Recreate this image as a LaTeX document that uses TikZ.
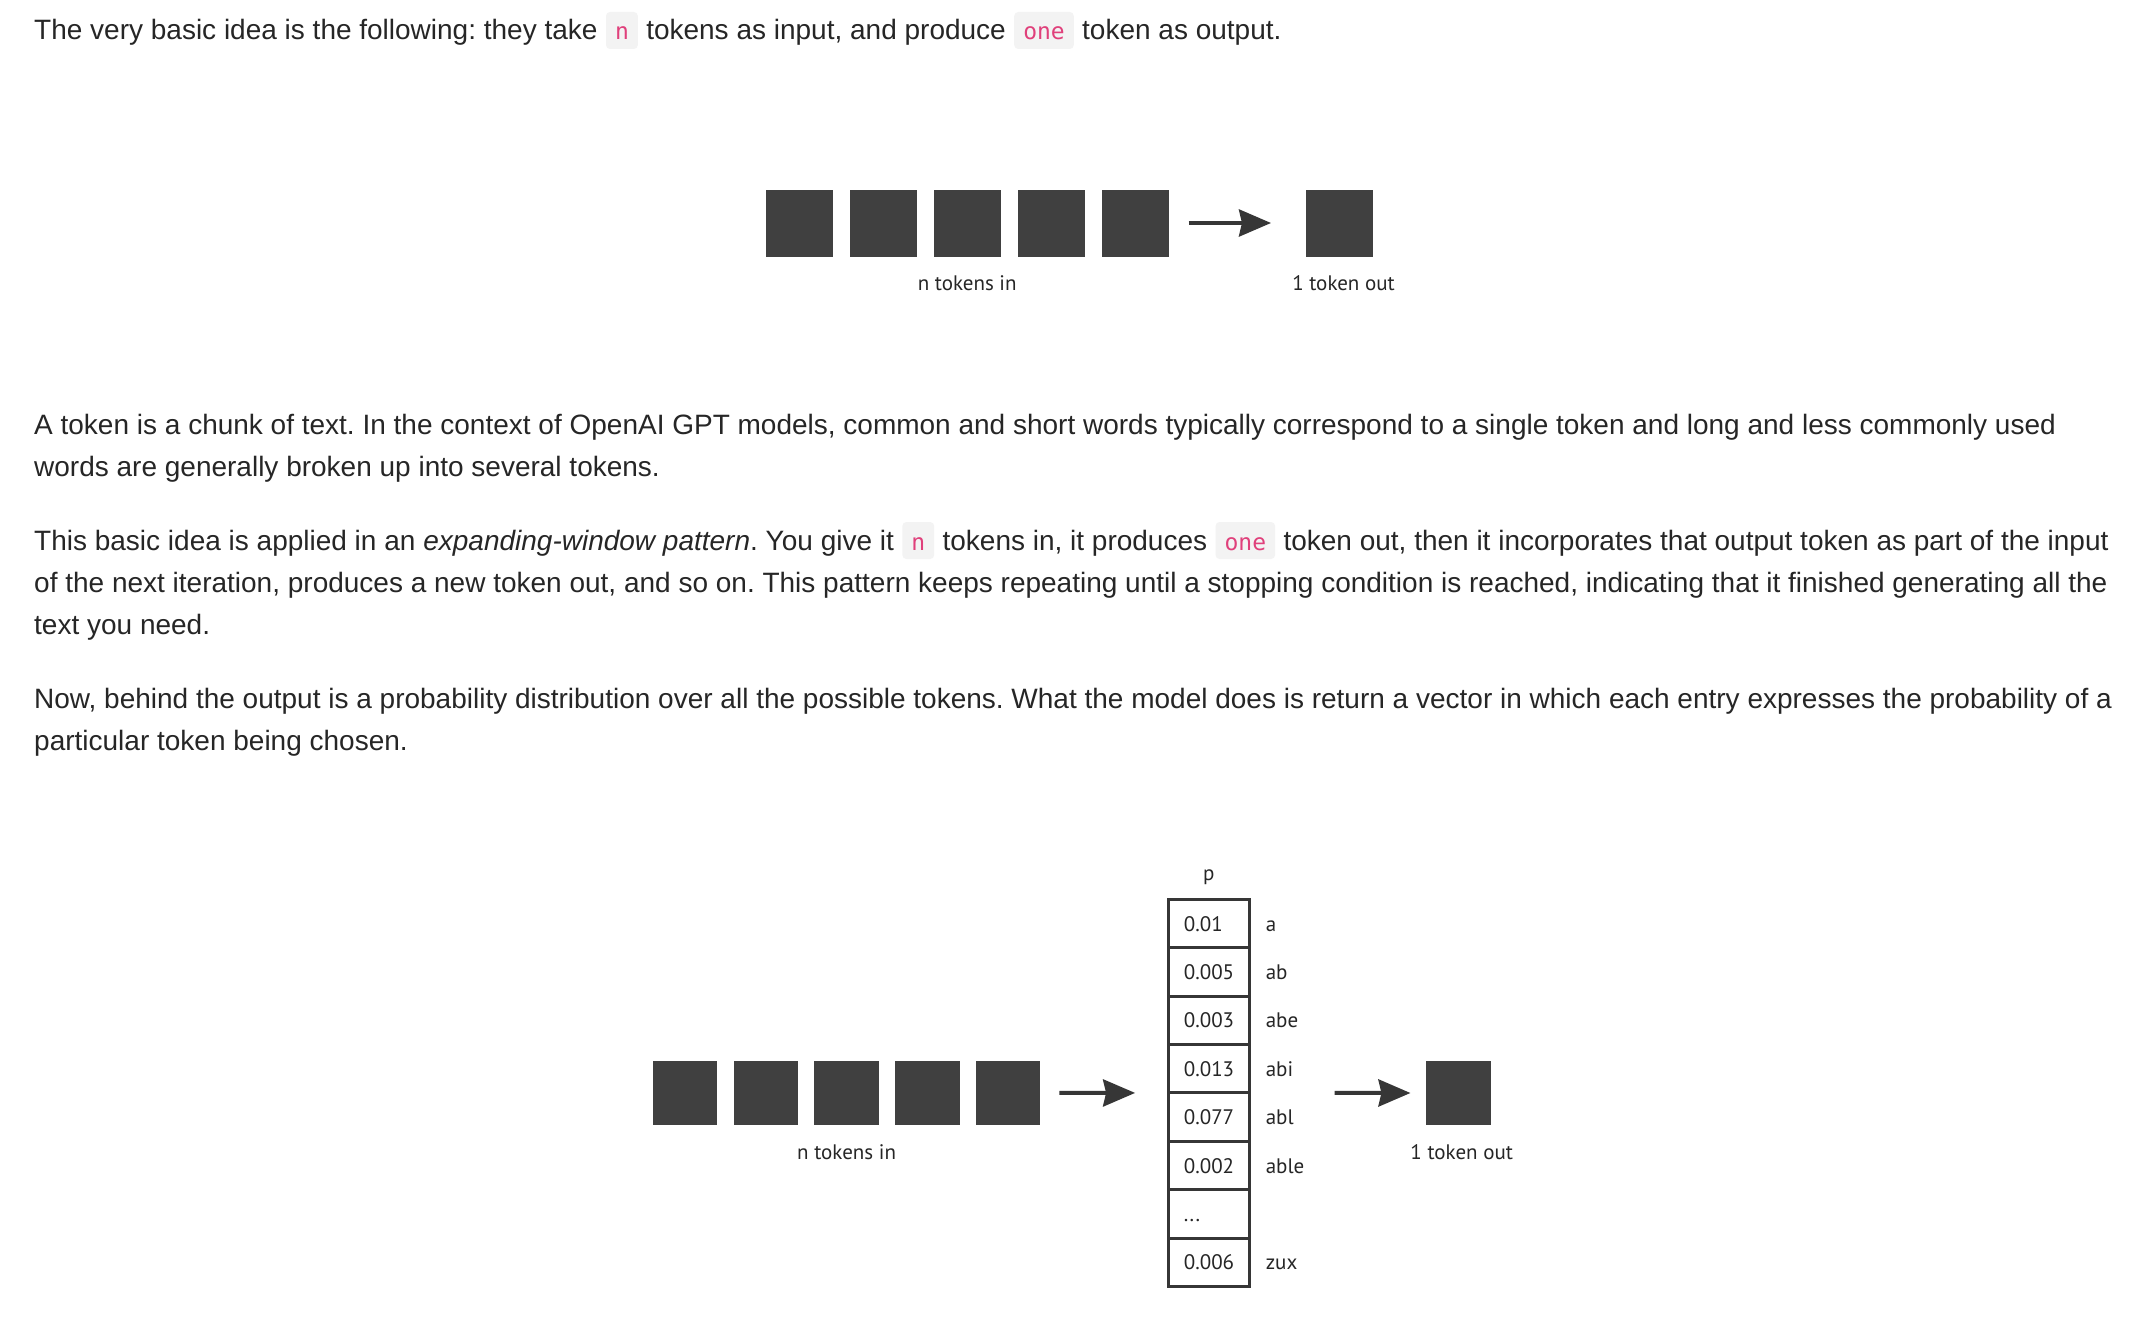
\documentclass[tikz,border=0pt]{standalone}
\usepackage{fontspec}
\setmainfont{Liberation Sans}
\setmonofont{DejaVu Sans Mono}
\newfontfamily\figfont{PT Sans}
\usetikzlibrary{positioning,arrows.meta}
\frenchspacing

\definecolor{bodytext}{HTML}{262626}
\definecolor{codepink}{HTML}{E0407B}
\definecolor{codebg}{HTML}{F3F3F3}
\definecolor{tokgray}{HTML}{404040}
\definecolor{linegray}{HTML}{363636}

\begin{document}
\begin{tikzpicture}[
    x=1pt, y=-1pt,
    body/.style={anchor=base west, inner sep=0pt, text=bodytext, font=\fontsize{28}{41}\selectfont},
    code/.style={fill=codebg, rounded corners=4pt, text=codepink, inner xsep=9pt, inner ysep=6pt,
        text height=22pt, text depth=3pt, font=\ttfamily\fontsize{23}{28}\selectfont},
    tok/.style={fill=tokgray, inner sep=0pt, outer sep=0pt, minimum size=67pt},
    smalltok/.style={tok, minimum size=64.5pt},
    flow/.style={draw=linegray, line width=4pt, -{Stealth[length=32pt, width=27pt, inset=3pt]}},
    lbl/.style={inner sep=0pt, text=bodytext, font=\figfont\fontsize{21}{25}\selectfont},
    cell/.style={draw=linegray, line width=3pt, outer sep=0pt, minimum height=48.4pt,
        text width=50pt, inner xsep=15.75pt, align=left, text height=15pt, text depth=0pt,
        text=bodytext, font=\figfont\fontsize{21}{25}\selectfont}
]
\useasboundingbox[fill=white] (0,0) rectangle (2138,1330);

% Text above the first figure
\node[body] (l1a) at (34,40) {The very basic idea is the following: they take};
\node[code, base right=8pt of l1a] (c1) {n};
\node[body, base right=8pt of c1] (l1b) {tokens as input, and produce};
\node[code, base right=8pt of l1b] (c2) {one};
\node[body, base right=8pt of c2] (l1c) {token as output.};

% First figure: n tokens in, 1 token out
\node[tok] (in1) at (799.2,223) {};
\node[tok, right=17pt of in1] (in2) {};
\node[tok, right=17pt of in2] (in3) {};
\node[tok, right=17pt of in3] (in4) {};
\node[tok, right=17pt of in4] (in5) {};
\node[tok] (out) at (1339.5,223) {};
\draw[flow, shorten <=20pt, shorten >=35pt] (in5) -- (out);
\node[lbl, below=19pt of in3] (inlbl) {n tokens in};
\node[lbl, below=19pt of out, xshift=4pt] (outlbl) {1 token out};

% Paragraphs
\node[body] (p2a) at (34,434) {A token is a chunk of text. In the context of OpenAI GPT models, common and short words typically correspond to a single token and long and less commonly used};
\node[body] (p2b) at (34,476) {words are generally broken up into several tokens.};

\node[body] (p3a) at (34,550) {This basic idea is applied in an \textit{expanding-window pattern}. You give it};
\node[code, base right=8pt of p3a] (c3) {n};
\node[body, base right=8pt of c3] (p3b) {tokens in, it produces};
\node[code, base right=8pt of p3b] (c4) {one};
\node[body, base right=8pt of c4] (p3c) {token out, then it incorporates that output token as part of the input};
\node[body] (p3d) at (34,592) {of the next iteration, produces a new token out, and so on. This pattern keeps repeating until a stopping condition is reached, indicating that it finished generating all the};
\node[body] (p3e) at (34,634) {text you need.};

\node[body] (p4a) at (34,708) {Now, behind the output is a probability distribution over all the possible tokens. What the model does is return a vector in which each entry expresses the probability of a};
\node[body] (p4b) at (34,750) {particular token being chosen.};

% Second figure: tokens -> probability vector -> token
\node[smalltok] (b1) at (685,1093) {};
\node[smalltok, right=16.3pt of b1] (b2) {};
\node[smalltok, right=16.3pt of b2] (b3) {};
\node[smalltok, right=16.3pt of b3] (b4) {};
\node[smalltok, right=16.3pt of b4] (b5) {};
\node[lbl, below=19pt of b3] (binlbl) {n tokens in};

\node[cell] (v1) at (1208.85,923.5) {0.01};
\node[cell, below=0pt of v1] (v2) {0.005};
\node[cell, below=0pt of v2] (v3) {0.003};
\node[cell, below=0pt of v3] (v4) {0.013};
\node[cell, below=0pt of v4] (v5) {0.077};
\node[cell, below=0pt of v5] (v6) {0.002};
\node[cell, below=0pt of v6] (v7) {...};
\node[cell, below=0pt of v7] (v8) {0.006};
\node[lbl, above=14pt of v1] (ptop) {p};

\node[lbl, base right=16pt of v1] (w1) {a};
\node[lbl, base right=16pt of v2] (w2) {ab};
\node[lbl, base right=16pt of v3] (w3) {abe};
\node[lbl, base right=16pt of v4] (w4) {abi};
\node[lbl, base right=16pt of v5] (w5) {abl};
\node[lbl, base right=16pt of v6] (w6) {able};
\node[lbl, base right=16pt of v8] (w8) {zux};

\node[smalltok] (bout) at (1458.7,1093) {};
\node[lbl, below=19pt of bout, xshift=3pt] (boutlbl) {1 token out};

\draw[flow, shorten <=19pt, shorten >=33pt] (b5.east) -- (v4.south west);
\draw[flow, shorten <=85pt, shorten >=16pt] (v4.south east) -- (bout.west);

\end{tikzpicture}
\end{document}
